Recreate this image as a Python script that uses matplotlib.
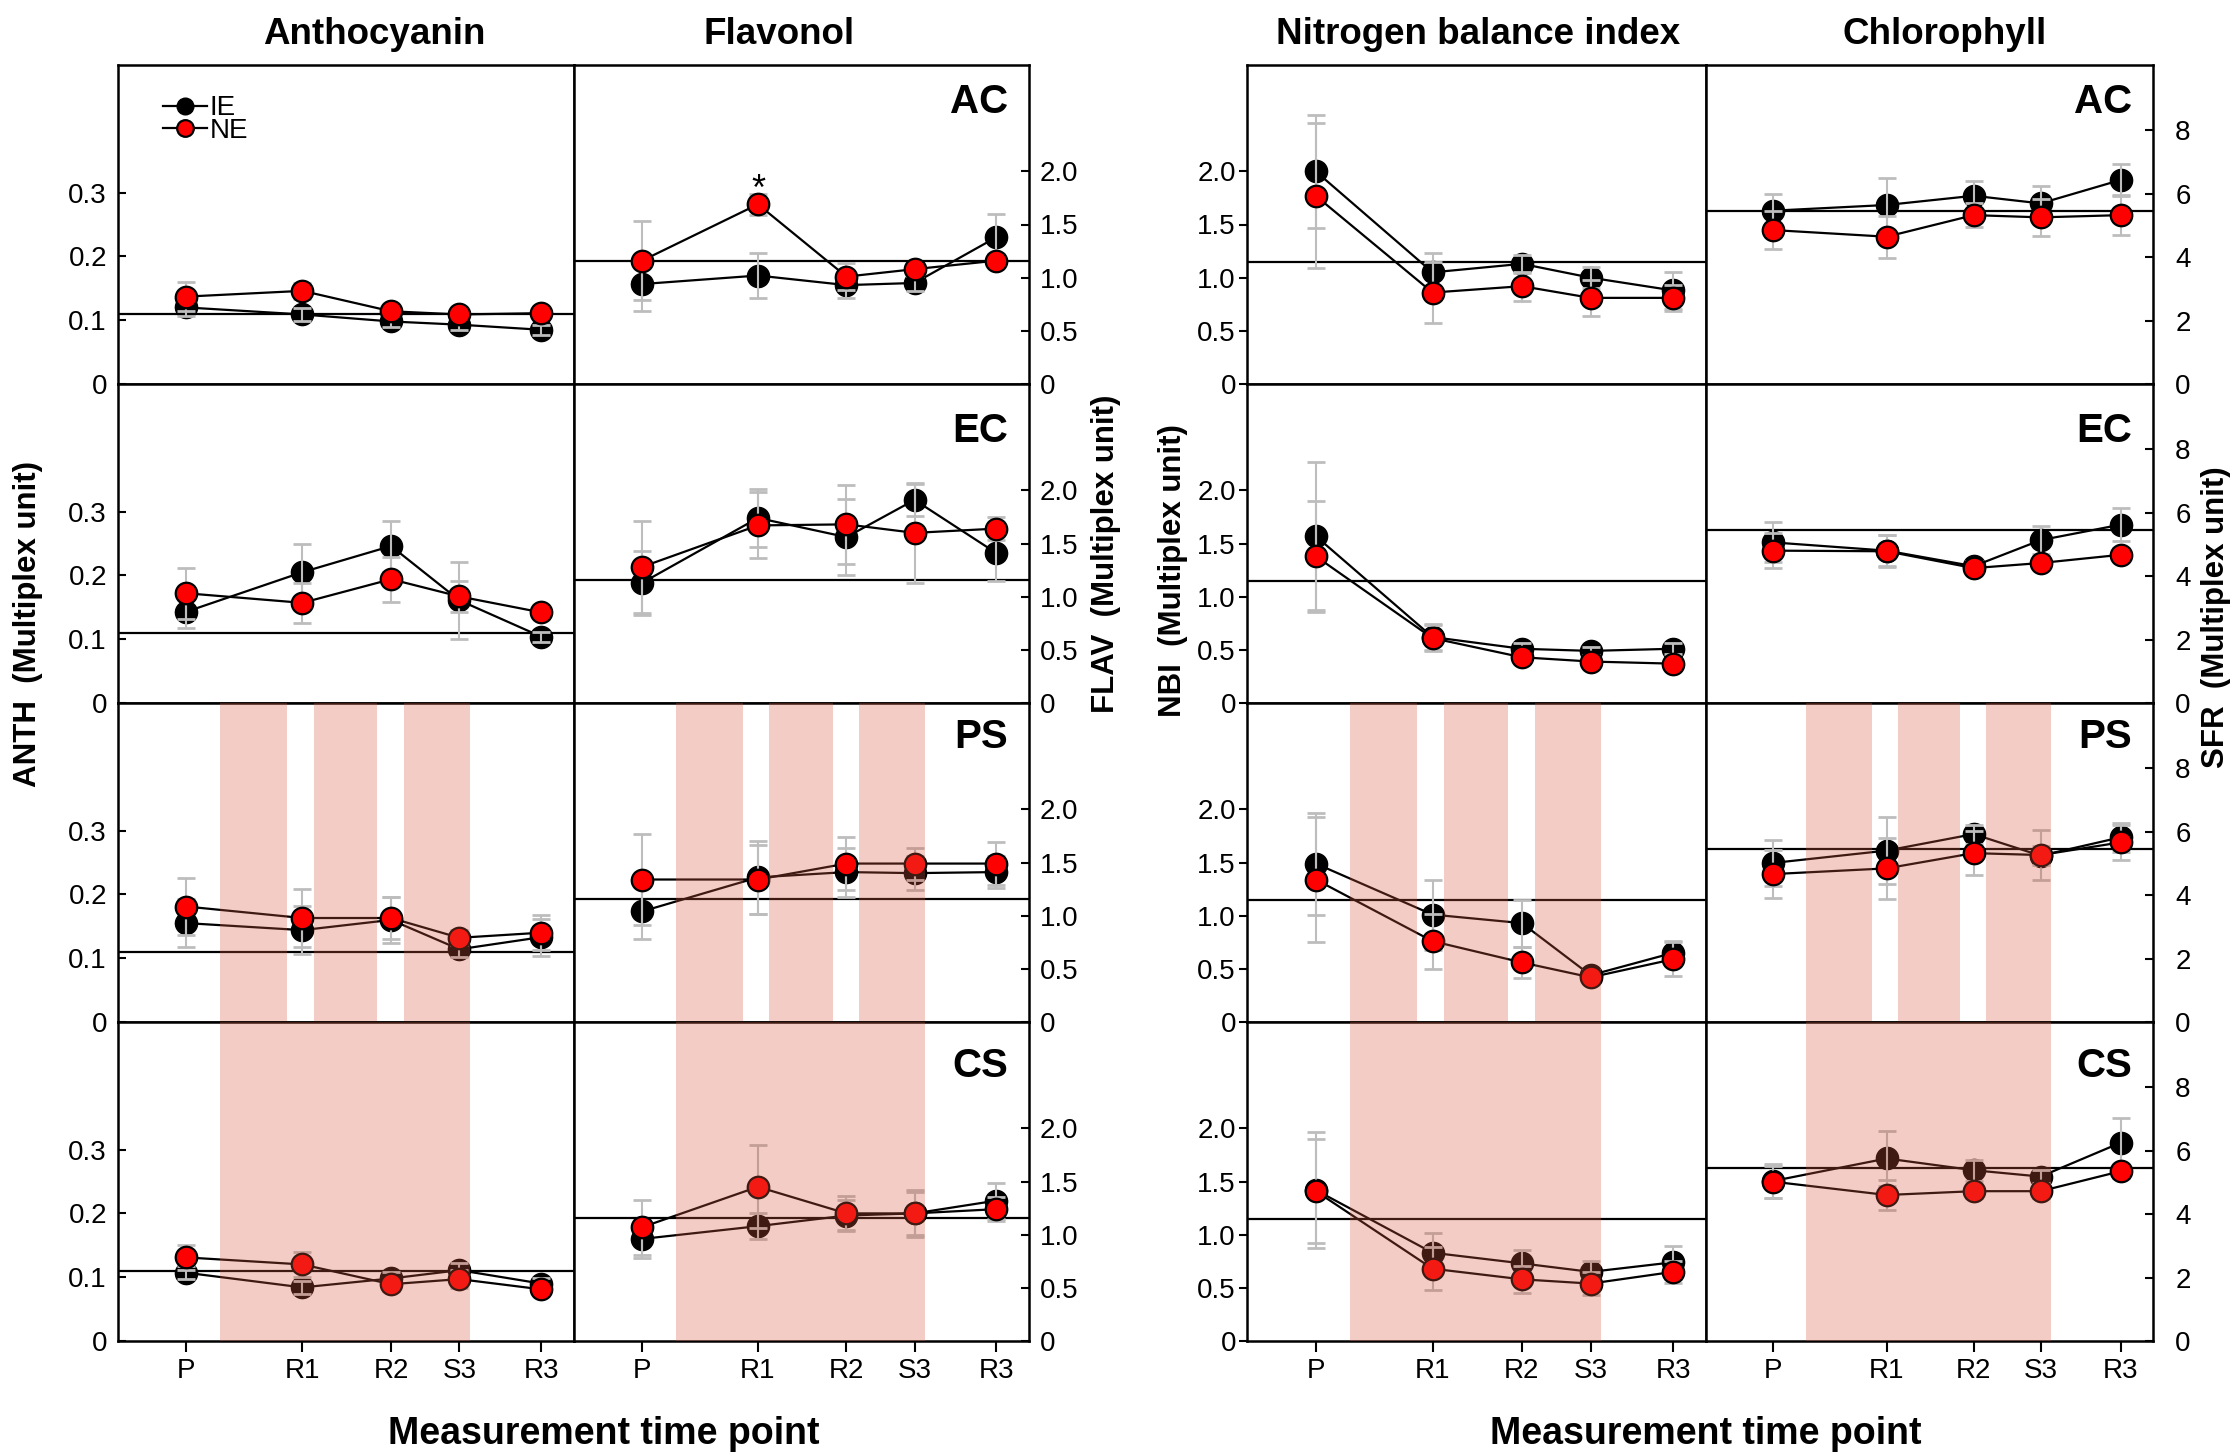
import matplotlib.pyplot as plt
from matplotlib.lines import Line2D

plt.rcParams['font.family'] = ['Liberation Sans', 'DejaVu Sans']

# time points on the x axis (spacing as in the original)
timepoints = ['P', 'R1', 'R2', 'S3', 'R3']
time_x = [1.0, 2.7, 4.0, 5.0, 6.2]
treatments = ['AC', 'EC', 'PS', 'CS']

# stress windows (shaded), in x units
ps_windows = [(1.5, 2.48), (2.87, 3.8), (4.19, 5.15)]
cs_windows = [(1.5, 5.15)]

# ---- Anthocyanin (ANTH), one row per treatment ----
anth_ie = [[0.120, 0.109, 0.098, 0.093, 0.085],
           [0.143, 0.205, 0.246, 0.161, 0.104],
           [0.155, 0.144, 0.160, 0.114, 0.133],
           [0.107, 0.084, 0.098, 0.111, 0.090]]
anth_ie_err = [[0.013, 0.010, 0.008, 0.008, 0.008],
               [0.026, 0.045, 0.040, 0.060, 0.008],
               [0.038, 0.038, 0.036, 0.012, 0.029],
               [0.010, 0.010, 0.010, 0.012, 0.008]]
anth_ne = [[0.137, 0.146, 0.114, 0.109, 0.111],
           [0.172, 0.157, 0.194, 0.167, 0.142],
           [0.181, 0.163, 0.163, 0.132, 0.140],
           [0.131, 0.120, 0.089, 0.097, 0.081]]
anth_ne_err = [[0.023, 0.012, 0.008, 0.008, 0.008],
               [0.040, 0.031, 0.035, 0.025, 0.008],
               [0.045, 0.045, 0.033, 0.012, 0.027],
               [0.020, 0.019, 0.010, 0.014, 0.008]]
anth_ref = 0.11

# ---- Flavonol (FLAV) ----
flav_ie = [[0.94, 1.02, 0.93, 0.95, 1.38],
           [1.13, 1.74, 1.56, 1.91, 1.41],
           [1.04, 1.36, 1.41, 1.40, 1.41],
           [0.96, 1.08, 1.18, 1.20, 1.32]]
flav_ie_err = [[0.25, 0.21, 0.12, 0.08, 0.22],
               [0.30, 0.27, 0.36, 0.15, 0.26],
               [0.26, 0.34, 0.23, 0.16, 0.15],
               [0.18, 0.12, 0.15, 0.22, 0.17]]
flav_ne = [[1.16, 1.69, 1.01, 1.08, 1.16],
           [1.28, 1.67, 1.68, 1.60, 1.64],
           [1.34, 1.34, 1.49, 1.49, 1.49],
           [1.07, 1.45, 1.20, 1.20, 1.24]]
flav_ne_err = [[0.37, 0.10, 0.13, 0.06, 0.06],
               [0.43, 0.31, 0.37, 0.47, 0.11],
               [0.43, 0.32, 0.25, 0.15, 0.20],
               [0.26, 0.39, 0.16, 0.20, 0.11]]
flav_ref = 1.155

# ---- Nitrogen balance index (NBI) ----
nbi_ie = [[2.00, 1.05, 1.13, 1.00, 0.88],
          [1.57, 0.62, 0.51, 0.49, 0.51],
          [1.49, 1.01, 0.93, 0.44, 0.65],
          [1.42, 0.83, 0.73, 0.65, 0.74]]
nbi_ie_err = [[0.53, 0.18, 0.085, 0.10, 0.17],
              [0.70, 0.12, 0.05, 0.04, 0.05],
              [0.48, 0.33, 0.22, 0.05, 0.11],
              [0.55, 0.19, 0.125, 0.10, 0.156]]
nbi_ne = [[1.77, 0.86, 0.92, 0.81, 0.81],
          [1.38, 0.61, 0.43, 0.39, 0.37],
          [1.34, 0.76, 0.56, 0.42, 0.59],
          [1.41, 0.68, 0.58, 0.54, 0.65]]
nbi_ne_err = [[0.68, 0.29, 0.135, 0.17, 0.12],
              [0.52, 0.12, 0.05, 0.04, 0.04],
              [0.59, 0.26, 0.15, 0.05, 0.16],
              [0.49, 0.20, 0.13, 0.11, 0.107]]
nbi_ref = 1.15

# ---- Chlorophyll (SFR) ----
sfr_ie = [[5.46, 5.64, 5.93, 5.69, 6.43],
          [5.06, 4.80, 4.31, 5.13, 5.62],
          [5.01, 5.40, 5.92, 5.24, 5.82],
          [5.04, 5.75, 5.38, 5.18, 6.25]]
sfr_ie_err = [[0.53, 0.85, 0.48, 0.56, 0.51],
              [0.63, 0.48, 0.15, 0.44, 0.52],
              [0.72, 1.05, 0.30, 0.30, 0.45],
              [0.55, 0.86, 0.33, 0.20, 0.76]]
sfr_ne = [[4.85, 4.64, 5.32, 5.25, 5.32],
          [4.80, 4.78, 4.25, 4.41, 4.67],
          [4.66, 4.84, 5.32, 5.26, 5.66],
          [5.02, 4.60, 4.72, 4.72, 5.35]]
sfr_ne_err = [[0.61, 0.66, 0.37, 0.59, 0.62],
              [0.55, 0.50, 0.15, 0.20, 0.20],
              [0.75, 0.95, 0.70, 0.78, 0.55],
              [0.50, 0.47, 0.20, 0.20, 0.20]]
sfr_ref = 5.46

W, H = 2238, 1454
fig = plt.figure(figsize=(W / 100, H / 100), dpi=100)

ROW_TOP = 65
ROW_H = 319
band_color = '#d45841'
err_color = '#bdbdbd'

# column setup: x range in pixels, y limits, ticks, tick side/direction/pad
columns = [
    dict(x0=118, x1=574, ylim=(0, 0.5), ticks=[0, 0.1, 0.2, 0.3],
         labels=['0', '0.1', '0.2', '0.3'], side='left', tdir='in', pad=8,
         ie=anth_ie, ie_err=anth_ie_err, ne=anth_ne, ne_err=anth_ne_err, ref=anth_ref),
    dict(x0=574, x1=1029, ylim=(0, 3.0), ticks=[0, 0.5, 1.0, 1.5, 2.0],
         labels=['0', '0.5', '1.0', '1.5', '2.0'], side='right', tdir='in', pad=8,
         ie=flav_ie, ie_err=flav_ie_err, ne=flav_ne, ne_err=flav_ne_err, ref=flav_ref),
    dict(x0=1247, x1=1706, ylim=(0, 3.0), ticks=[0, 0.5, 1.0, 1.5, 2.0],
         labels=['0', '0.5', '1.0', '1.5', '2.0'], side='left', tdir='out', pad=2,
         ie=nbi_ie, ie_err=nbi_ie_err, ne=nbi_ne, ne_err=nbi_ne_err, ref=nbi_ref),
    dict(x0=1706, x1=2153, ylim=(0, 10.05), ticks=[0, 2, 4, 6, 8],
         labels=['0', '2', '4', '6', '8'], side='right', tdir='in', pad=16,
         ie=sfr_ie, ie_err=sfr_ie_err, ne=sfr_ne, ne_err=sfr_ne_err, ref=sfr_ref),
]

label_top_px = [18, 28, 15, 25]

axes = {}
for ci, col in enumerate(columns):
    for r in range(4):
        top = ROW_TOP + r * ROW_H
        ax = fig.add_axes([col['x0'] / W, 1 - (top + ROW_H) / H,
                           (col['x1'] - col['x0']) / W, ROW_H / H])
        axes[(ci, r)] = ax
        ax.set_xlim(0, 6.68)
        ax.set_ylim(*col['ylim'])
        for sp in ax.spines.values():
            sp.set_linewidth(1.8)

        ax.axhline(col['ref'], color='black', lw=1.6, zorder=2)

        ie, ie_e = col['ie'][r], col['ie_err'][r]
        ne, ne_e = col['ne'][r], col['ne_err'][r]
        ax.plot(time_x, ie, '-o', color='black', lw=1.6, ms=16,
                mfc='black', mec='black', zorder=3, label='IE')
        ax.errorbar(time_x, ie, yerr=ie_e, fmt='none', ecolor=err_color,
                    elinewidth=1.5, capsize=6.5, capthick=2, zorder=4)
        ax.errorbar(time_x, ne, yerr=ne_e, fmt='none', ecolor=err_color,
                    elinewidth=1.5, capsize=6.5, capthick=2, zorder=4)
        ax.plot(time_x, ne, '-o', color='black', lw=1.6, ms=15.5,
                mfc='#ff0000', mec='black', mew=1.6, zorder=5, label='NE')

        if r == 2:
            for a, b in ps_windows:
                ax.axvspan(a, b, color=band_color, alpha=0.3, lw=0, zorder=10)
        if r == 3:
            for a, b in cs_windows:
                ax.axvspan(a, b, color=band_color, alpha=0.3, lw=0, zorder=10)

        ax.set_yticks(col['ticks'], col['labels'])
        if col['side'] == 'right':
            ax.yaxis.tick_right()
        ax.tick_params(axis='y', direction=col['tdir'], length=6, width=1.5,
                       labelsize=20, pad=col['pad'])

        if r == 3:
            ax.set_xticks(time_x, timepoints)
            ax.tick_params(axis='x', direction='out', length=8, width=1.5,
                           labelsize=20, pad=4)
        else:
            ax.set_xticks([])

        if col['side'] == 'right':
            ax.text(1 - 21 / (col['x1'] - col['x0']), 1 - label_top_px[r] / ROW_H,
                    treatments[r], transform=ax.transAxes, ha='right', va='top',
                    fontsize=29, fontweight='bold', zorder=12)

# significance mark on Flavonol / AC / R1
axes[(1, 0)].annotate('*', (time_x[1], flav_ne[0][1]), xytext=(0, 3),
                      textcoords='offset points', ha='center', va='baseline',
                      fontsize=26, zorder=12)

# legend
handles = [Line2D([], [], color='black', lw=1.6, marker='o', ms=12, mfc='black', mec='black'),
           Line2D([], [], color='black', lw=1.6, marker='o', ms=12, mfc='#ff0000', mec='black', mew=1.6)]
axes[(0, 0)].legend(handles, ['IE', 'NE'], loc='upper left', bbox_to_anchor=(0.098, 0.905),
                    frameon=False, fontsize=20, borderpad=0, borderaxespad=0,
                    handletextpad=0.1, handlelength=1.6, labelspacing=-0.12)

# column titles
titles = [('Anthocyanin', 374), ('Flavonol', 779),
          ('Nitrogen balance index', 1478), ('Chlorophyll', 1945)]
for t, x in titles:
    fig.text(x / W, 1 - 44 / H, t, ha='center', va='baseline',
             fontsize=26.5, fontweight='bold')

# axis labels
ylabels = [('ANTH  (Multiplex unit)', 28, 624), ('FLAV  (Multiplex unit)', 1106, 554),
           ('NBI  (Multiplex unit)', 1173, 571), ('SFR  (Multiplex unit)', 2216, 617)]
for t, x, y in ylabels:
    fig.text(x / W, 1 - y / H, t, rotation=90, ha='center', va='center',
             fontsize=22.5, fontweight='bold')

for x in (604, 1706):
    fig.text(x / W, 1 - 1444 / H, 'Measurement time point', ha='center',
             va='baseline', fontsize=27, fontweight='bold')

fig.savefig('out.png', dpi=100)
